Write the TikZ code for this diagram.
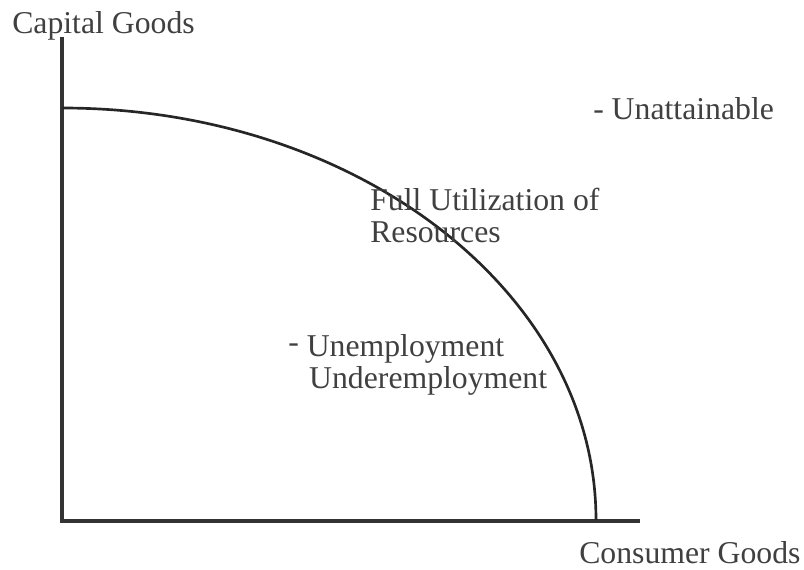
\documentclass[tikz,border=0pt]{standalone}
\usepackage{fontspec}
\setmainfont{Liberation Serif}
\begin{document}
\begin{tikzpicture}[x=0.75pt,y=0.75pt]
	\tikzstyle{axis} = [draw=black!80, line width=2.4pt]
	\tikzstyle{ppf} = [draw=black!85, line width=2pt]
	\tikzstyle{lbl} = [anchor=base west, inner sep=0pt, text=black!75, align=left,
		font=\fontsize{23.8}{23.8}\selectfont]
	\useasboundingbox (0,0) rectangle (804,569);
	% axes
	\coordinate (origin) at (62,48);
	\coordinate (ytop) at (62,532);
	\coordinate (xend) at (640,48);
	\coordinate (ppf-top) at (62,461);
	\draw[axis] (ytop) -- (origin) -- (xend);
	% frontier
	\draw[ppf] (ppf-top) arc[start angle=90, end angle=0, x radius=400.5pt, y radius=309pt] coordinate (ppf-end);
	% labels
	\node[lbl] (capital) at (12,535) {Capital Goods};
	\node[lbl] (consumer) at (579,6) {Consumer Goods};
	\node[lbl] (unattain) at (593,450) {-\hspace{0.25em}Unattainable};
	\node[lbl] (full) at (370,327) {Full Utilization of\\Resources};
	\node[lbl] (unemp) at (288,181) {\raisebox{3pt}{-}\hspace{0.25em}Unemployment\\\hspace{0.66em}Underemployment};
\end{tikzpicture}
\end{document}
